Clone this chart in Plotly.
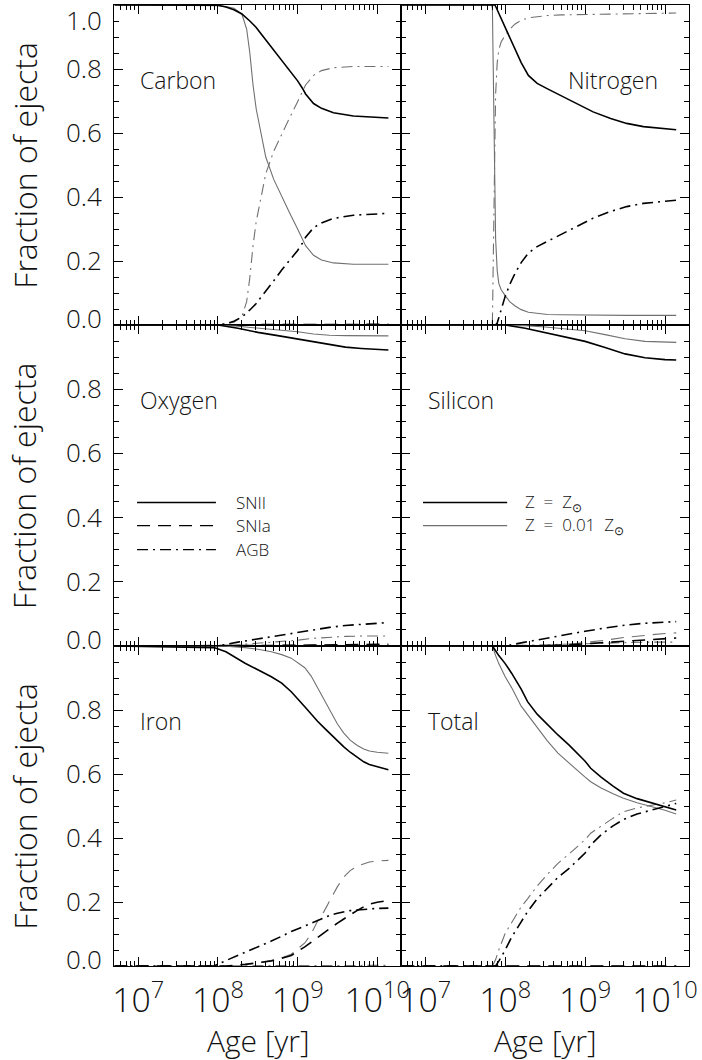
import plotly.graph_objects as go

# ---------------- data (log10 age [yr] grids and ejecta fractions) ----------------
# Carbon
C_LOGT = [6.70, 7.90, 8.00, 8.10, 8.20, 8.30, 8.36, 8.40, 8.44, 8.48, 8.54, 8.60, 8.70, 8.80,
          8.90, 9.00, 9.06, 9.10, 9.20, 9.30, 9.45, 9.70, 10.14]
C_SNII_Z1 = [1.0, 1.0, 0.999, 0.994, 0.985, 0.972, 0.960, 0.950, 0.940, 0.930, 0.910, 0.891, 0.858, 0.824,
             0.793, 0.763, 0.740, 0.722, 0.692, 0.677, 0.663, 0.653, 0.647]
C_SNII_Z2 = [1.0, 1.0, 0.998, 0.995, 0.990, 0.972, 0.925, 0.850, 0.750, 0.675, 0.595, 0.525, 0.455, 0.400,
             0.350, 0.300, 0.268, 0.248, 0.218, 0.203, 0.194, 0.190, 0.190]
C_AGB_Z1 = [0.0, 0.0, 0.0, 0.004, 0.012, 0.025, 0.037, 0.047, 0.057, 0.067, 0.087, 0.105, 0.138, 0.172,
            0.203, 0.233, 0.256, 0.274, 0.304, 0.319, 0.333, 0.343, 0.349]
C_AGB_Z2 = [0.0, 0.0, 0.001, 0.004, 0.009, 0.026, 0.073, 0.148, 0.248, 0.323, 0.403, 0.473, 0.543, 0.598,
            0.648, 0.698, 0.730, 0.750, 0.780, 0.795, 0.804, 0.808, 0.808]
C_SNIA_Z1 = [0.0, 0.0, 0.0, 0.001, 0.001, 0.001, 0.002, 0.002, 0.002, 0.002, 0.002, 0.002, 0.002, 0.002,
             0.002, 0.002, 0.002, 0.002, 0.002, 0.002, 0.002, 0.002, 0.002]
C_SNIA_Z2 = [0.0, 0.0, 0.0, 0.0, 0.001, 0.001, 0.001, 0.001, 0.001, 0.001, 0.001, 0.001, 0.001, 0.001,
             0.001, 0.001, 0.001, 0.001, 0.001, 0.001, 0.001, 0.001, 0.001]

# Nitrogen
N_LOGT = [6.70, 7.83, 7.84, 7.85, 7.86, 7.87, 7.88, 7.90, 7.92, 7.95, 8.00, 8.06, 8.12, 8.20, 8.29,
          8.40, 8.53, 8.70, 8.90, 9.10, 9.32, 9.52, 9.73, 9.95, 10.14]
N_SNII_Z1 = [1.0, 1.0, 1.0, 1.0, 1.0, 1.0, 0.996, 0.985, 0.975, 0.960, 0.932, 0.895, 0.862, 0.820, 0.780,
             0.755, 0.738, 0.717, 0.692, 0.666, 0.645, 0.630, 0.620, 0.614, 0.610]
N_SNII_Z2 = [1.0, 1.0, 0.99, 0.85, 0.68, 0.45, 0.27, 0.17, 0.13, 0.11, 0.092, 0.072, 0.060, 0.048, 0.040,
             0.036, 0.033, 0.032, 0.031, 0.031, 0.030, 0.030, 0.030, 0.030, 0.030]
N_AGB_Z1 = [0.0, 0.0, 0.0, 0.0, 0.0, 0.0, 0.0, 0.006, 0.024, 0.050, 0.090, 0.128, 0.160, 0.195, 0.225,
            0.245, 0.262, 0.283, 0.308, 0.334, 0.355, 0.370, 0.380, 0.386, 0.390]
N_AGB_Z2 = [0.0, 0.0, 0.01, 0.15, 0.32, 0.55, 0.72, 0.82, 0.86, 0.885, 0.905, 0.925, 0.940, 0.952, 0.960,
            0.964, 0.967, 0.969, 0.970, 0.971, 0.972, 0.973, 0.974, 0.975, 0.975]
N_SNIA_Z1 = [0.0] * 25
N_SNIA_Z2 = [0.0] * 25

# Oxygen
O_LOGT = [6.70, 8.00, 8.25, 8.50, 8.75, 9.00, 9.20, 9.40, 9.60, 9.80, 10.00, 10.14]
O_SNII_Z1 = [1.0, 1.0, 0.990, 0.977, 0.967, 0.956, 0.947, 0.938, 0.931, 0.927, 0.924, 0.922]
O_SNII_Z2 = [1.0, 1.0, 0.996, 0.991, 0.986, 0.979, 0.972, 0.968, 0.967, 0.966, 0.966, 0.966]
O_AGB_Z1 = [0.0, 0.0, 0.012, 0.022, 0.033, 0.042, 0.050, 0.058, 0.064, 0.068, 0.071, 0.073]
O_AGB_Z2 = [0.0, 0.0, 0.004, 0.008, 0.012, 0.018, 0.024, 0.028, 0.030, 0.031, 0.031, 0.031]
O_SNIA_Z1 = [0.0, 0.0, 0.0, 0.0005, 0.001, 0.002, 0.003, 0.004, 0.005, 0.005, 0.005, 0.005]
O_SNIA_Z2 = [0.0, 0.0, 0.0, 0.0, 0.001, 0.002, 0.003, 0.003, 0.003, 0.003, 0.003, 0.003]

# Silicon
S_LOGT = [6.70, 8.00, 8.25, 8.50, 8.75, 9.00, 9.25, 9.50, 9.75, 10.00, 10.14]
S_SNII_Z1 = [1.0, 1.0, 0.990, 0.977, 0.963, 0.949, 0.930, 0.910, 0.898, 0.892, 0.891]
S_SNII_Z2 = [1.0, 1.0, 0.998, 0.994, 0.989, 0.982, 0.970, 0.957, 0.949, 0.946, 0.946]
S_AGB_Z1 = [0.0, 0.0, 0.012, 0.024, 0.034, 0.046, 0.056, 0.065, 0.071, 0.075, 0.076]
S_AGB_Z2 = [0.0, 0.0, 0.002, 0.004, 0.006, 0.008, 0.010, 0.011, 0.012, 0.012, 0.012]
S_SNIA_Z1 = [0.0, 0.0, 0.0, 0.001, 0.003, 0.007, 0.012, 0.017, 0.021, 0.024, 0.025]
S_SNIA_Z2 = [0.0, 0.0, 0.0, 0.001, 0.004, 0.010, 0.018, 0.027, 0.034, 0.039, 0.041]

# Iron
F_LOGT = [6.70, 7.95, 8.10, 8.34, 8.50, 8.67, 8.80, 8.92, 9.09, 9.17, 9.25, 9.33, 9.42, 9.50, 9.58,
          9.66, 9.75, 9.83, 9.90, 10.00, 10.14]
F_SNII_Z1 = [1.0, 0.995, 0.982, 0.946, 0.926, 0.904, 0.884, 0.857, 0.810, 0.787, 0.765, 0.745, 0.723,
             0.704, 0.685, 0.668, 0.652, 0.638, 0.630, 0.622, 0.613]
F_SNII_Z2 = [1.0, 1.0, 0.999, 0.995, 0.990, 0.982, 0.973, 0.962, 0.932, 0.906, 0.870, 0.832, 0.790,
             0.756, 0.728, 0.706, 0.689, 0.678, 0.672, 0.668, 0.665]
F_AGB_Z1 = [0.0, 0.0, 0.017, 0.042, 0.059, 0.078, 0.093, 0.108, 0.125, 0.133, 0.141, 0.151, 0.160,
            0.165, 0.170, 0.173, 0.175, 0.177, 0.178, 0.180, 0.181]
F_AGB_Z2 = [0.0, 0.0, 0.0, 0.001, 0.001, 0.001, 0.001, 0.001, 0.002, 0.002, 0.002, 0.002, 0.002,
            0.002, 0.002, 0.002, 0.002, 0.002, 0.002, 0.002, 0.002]
F_SNIA_Z1 = [0.0, 0.0, 0.0, 0.005, 0.010, 0.016, 0.024, 0.033, 0.060, 0.075, 0.090, 0.103, 0.120,
             0.134, 0.147, 0.161, 0.174, 0.185, 0.193, 0.199, 0.205]
F_SNIA_Z2 = [0.0, 0.0, 0.0, 0.004, 0.009, 0.017, 0.026, 0.037, 0.072, 0.100, 0.140, 0.170, 0.212,
             0.248, 0.278, 0.298, 0.312, 0.320, 0.325, 0.328, 0.330]

# Total
T_LOGT = [6.70, 7.84, 7.88, 7.92, 8.00, 8.08, 8.20, 8.28, 8.40, 8.53, 8.66, 8.80, 9.00, 9.07, 9.20,
          9.35, 9.48, 9.65, 9.85, 10.00, 10.14]
T_SNII_Z1 = [1.0, 1.0, 0.985, 0.970, 0.945, 0.915, 0.865, 0.826, 0.787, 0.753, 0.722, 0.690, 0.640,
             0.618, 0.590, 0.562, 0.540, 0.523, 0.508, 0.497, 0.4875]
T_SNII_Z2 = [1.0, 1.0, 0.970, 0.945, 0.904, 0.870, 0.812, 0.785, 0.745, 0.703, 0.665, 0.633, 0.590,
             0.576, 0.556, 0.538, 0.524, 0.510, 0.498, 0.487, 0.475]
T_AGB_Z1 = [0.0, 0.0, 0.0, 0.015, 0.050, 0.090, 0.140, 0.170, 0.210, 0.245, 0.277, 0.305, 0.353,
            0.378, 0.410, 0.438, 0.458, 0.475, 0.4875, 0.498, 0.508]
T_AGB_Z2 = [0.0, 0.0, 0.020, 0.050, 0.102, 0.135, 0.185, 0.210, 0.250, 0.287, 0.321, 0.350, 0.395,
            0.415, 0.438, 0.462, 0.482, 0.494, 0.503, 0.510, 0.519]
T_SNIA_Z1 = [0.0] * 21
T_SNIA_Z2 = [0.0] * 21

PANEL_NAMES = ["Carbon", "Nitrogen", "Oxygen", "Silicon", "Iron", "Total"]
Y_TICKS = [0.0, 0.2, 0.4, 0.6, 0.8, 1.0]

PANELS = [
    (C_LOGT, C_SNII_Z1, C_SNII_Z2, C_SNIA_Z1, C_SNIA_Z2, C_AGB_Z1, C_AGB_Z2),
    (N_LOGT, N_SNII_Z1, N_SNII_Z2, N_SNIA_Z1, N_SNIA_Z2, N_AGB_Z1, N_AGB_Z2),
    (O_LOGT, O_SNII_Z1, O_SNII_Z2, O_SNIA_Z1, O_SNIA_Z2, O_AGB_Z1, O_AGB_Z2),
    (S_LOGT, S_SNII_Z1, S_SNII_Z2, S_SNIA_Z1, S_SNIA_Z2, S_AGB_Z1, S_AGB_Z2),
    (F_LOGT, F_SNII_Z1, F_SNII_Z2, F_SNIA_Z1, F_SNIA_Z2, F_AGB_Z1, F_AGB_Z2),
    (T_LOGT, T_SNII_Z1, T_SNII_Z2, T_SNIA_Z1, T_SNIA_Z2, T_AGB_Z1, T_AGB_Z2),
]

# ---------------- styling ----------------
W, H = 702, 1060
FONT = "Open Sans"
FW = 300
TXT = "#111111"
BLACK = "#000000"
GRAY = "#707070"
DASH = "13px,8px"
DASHDOT = "11px,5px,2px,5px"
LW_B, LW_G = 1.6, 1.1

X_DOMS = [(114 / W, 405 / W), (405 / W, 697 / W)]
Y_DOMS = [(1 - 325 / H, 1 - 5 / H), (1 - 646 / H, 1 - 325 / H), (1 - 966 / H, 1 - 646 / H)]
X_RANGE = [6.69897, 10.30103]

fig = go.Figure()
layout = dict(width=W, height=H, margin=dict(l=0, r=0, t=0, b=0),
              paper_bgcolor="white", plot_bgcolor="white", showlegend=False,
              font=dict(family=FONT, color=TXT, weight=FW))
annotations = []
shapes = []

for i, (logt, snii1, snii2, snia1, snia2, agb1, agb2) in enumerate(PANELS):
    row, col = divmod(i, 2)
    k = "" if i == 0 else str(i + 1)
    xa, ya = "x" + k, "y" + k
    ages = [10 ** v for v in logt]
    series = [
        (snia2, GRAY, LW_G, DASH), (agb2, GRAY, LW_G, DASHDOT), (snii2, GRAY, LW_G, "solid"),
        (snia1, BLACK, LW_B, DASH), (agb1, BLACK, LW_B, DASHDOT), (snii1, BLACK, LW_B, "solid"),
    ]
    for yv, colr, lw, dash in series:
        fig.add_trace(go.Scatter(x=ages, y=yv, mode="lines", xaxis=xa, yaxis=ya,
                                 line=dict(color=colr, width=lw, dash=dash),
                                 hoverinfo="skip"))
    bottom = row == 2
    layout["xaxis" + k] = dict(
        domain=X_DOMS[col], type="log", range=X_RANGE, anchor=ya,
        showline=True, linecolor="black", linewidth=1.2, mirror="allticks",
        ticks="inside", ticklen=9, tickwidth=1, tickcolor="black",
        dtick=1, tick0=0, exponentformat="power", showexponent="all",
        showticklabels=bottom, tickfont=dict(size=27, color=TXT, family=FONT, weight=FW),
        ticklabelstandoff=6,
        minor=dict(ticks="inside", ticklen=5, tickwidth=1, tickcolor="black", showgrid=False),
        showgrid=False, zeroline=False,
    )
    layout["yaxis" + k] = dict(
        domain=Y_DOMS[row], range=[0, 1], anchor=xa,
        showline=True, linecolor="black", linewidth=1.2, mirror="allticks",
        ticks="inside", ticklen=9, tickwidth=1, tickcolor="black",
        dtick=0.2, tick0=0, showticklabels=False,
        minor=dict(ticks="inside", ticklen=5, tickwidth=1, tickcolor="black", dtick=0.05,
                   showgrid=False),
        showgrid=False, zeroline=False,
    )
    # panel label
    if PANEL_NAMES[i] == "Nitrogen":
        lx, lanchor = 0.90, "right"
    else:
        lx, lanchor = (0.0825 if col == 0 else 0.0859), "left"
    annotations.append(dict(text=PANEL_NAMES[i], xref=xa + " domain", yref=ya + " domain",
                            x=lx, y=0.766, xanchor=lanchor, yanchor="middle",
                            showarrow=False, font=dict(size=23, weight=FW)))
    # y tick labels and axis title on the left column
    if col == 0:
        for v in Y_TICKS:
            if v == 1.0 and row != 0:
                continue
            if v == 1.0:
                yanc, ysh = "top", 5
            elif v == 0.0:
                yanc, ysh = "bottom", -13
            else:
                yanc, ysh = "middle", 1
            annotations.append(dict(text=f"{v:.1f}", xref=xa + " domain", yref=ya,
                                    x=0, y=v, xanchor="right", yanchor=yanc, xshift=-10, yshift=ysh,
                                    showarrow=False, font=dict(size=26, weight=FW)))
        annotations.append(dict(text="Fraction of ejecta", xref="paper", yref=ya + " domain",
                                x=22 / W, y=0.5, xanchor="center", yanchor="middle", textangle=-90,
                                showarrow=False, font=dict(size=32, weight=FW)))
    if bottom:
        annotations.append(dict(text="Age [yr]", xref=xa + " domain", yref="paper",
                                x=0.5, y=1 - 1040 / H, xanchor="center", yanchor="middle",
                                showarrow=False, font=dict(size=30, weight=FW)))

# legends (source types in Oxygen panel, metallicity in Silicon panel)
LEG1 = [("SNII", "solid"), ("SNIa", DASH), ("AGB", DASHDOT)]
LEG1_Y = [0.447, 0.375, 0.30]
for (lab, dash), yy in zip(LEG1, LEG1_Y):
    shapes.append(dict(type="line", xref="x3 domain", yref="y3 domain", x0=0.079, x1=0.354,
                       y0=yy, y1=yy, line=dict(color=BLACK, width=1.3, dash=dash)))
    annotations.append(dict(text=lab, xref="x3 domain", yref="y3 domain", x=0.416, y=yy,
                            xanchor="left", yanchor="middle", showarrow=False,
                            font=dict(size=17, weight=FW)))
LEG2 = [("Z  =  Z<sub>⊙</sub>", BLACK, 1.4), ("Z  =  0.01  Z<sub>⊙</sub>", GRAY, 1.1)]
LEG2_Y = [0.447, 0.375]
for (lab, colr, lw), yy in zip(LEG2, LEG2_Y):
    shapes.append(dict(type="line", xref="x4 domain", yref="y4 domain", x0=0.0756, x1=0.368,
                       y0=yy, y1=yy, line=dict(color=colr, width=lw)))
    annotations.append(dict(text=lab, xref="x4 domain", yref="y4 domain", x=0.423, y=yy,
                            xanchor="left", yanchor="middle", showarrow=False,
                            font=dict(size=17, weight=FW)))

layout["annotations"] = annotations
layout["shapes"] = shapes
fig.update_layout(**layout)
fig.write_html("out.html")
